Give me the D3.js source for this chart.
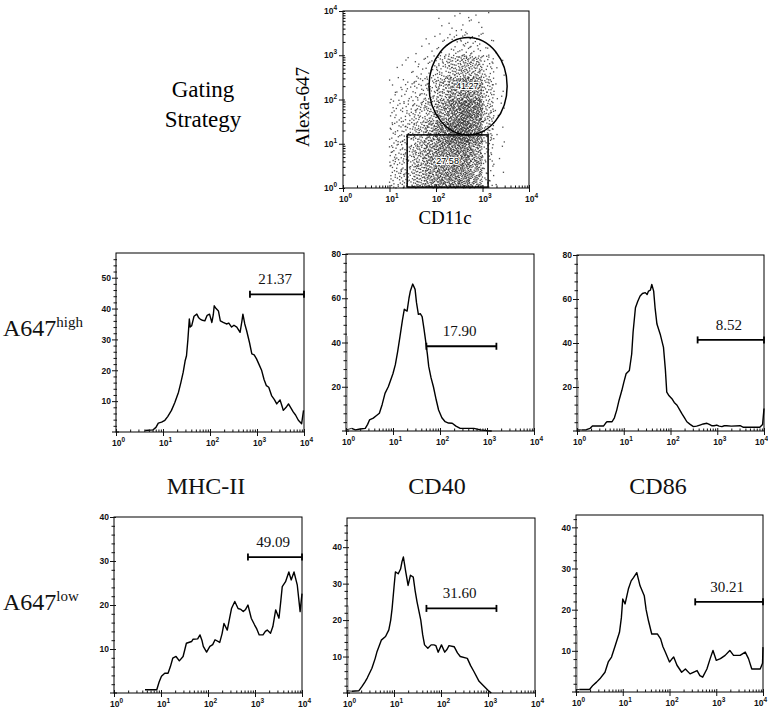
<!DOCTYPE html>
<html><head><meta charset="utf-8">
<script src="https://cdn.jsdelivr.net/npm/d3@7"></script>
<style>body{margin:0;background:#fff}</style>
</head><body><svg id="c" width="768" height="720"></svg>
<script>
// ---------- DATA ----------
const decades = [1, 10, 100, 1000, 10000];
// Scatter density grid (log10 lower edges, counts per cell)
const scatterXBins = [1.0, 1.25, 1.5, 1.75, 2.0, 2.25, 2.5, 2.75, 3.0, 3.25];
const scatterYBins = [3.5, 3.0, 2.5, 2.0, 1.5, 1.0, 0.5, 0.0];
const scatterDensity = [
  [0, 0, 0, 0, 2, 4, 6, 4, 1, 0],
  [0, 0, 2, 4, 8, 14, 18, 14, 6, 1],
  [1, 4, 8, 14, 28, 45, 60, 50, 20, 3],
  [8, 12, 20, 30, 50, 80, 100, 85, 35, 4],
  [14, 20, 30, 45, 75, 110, 140, 120, 40, 4],
  [20, 28, 45, 70, 110, 140, 150, 110, 30, 3],
  [25, 30, 55, 85, 105, 115, 110, 80, 18, 2],
  [25, 30, 55, 80, 100, 105, 100, 70, 15, 2]
];
// Gates on the dot plot (log10 units)
const ellipseGate = { cx: 2.69, cy: 2.3, rx: 0.84, ry: 1.1, label: "41.27" };
const rectGate = { x0: 1.38, x1: 3.12, y0: 0.02, y1: 1.2, label: "27.58" };

const markers = ["MHC-II", "CD40", "CD86"];
const populations = ["high", "low"];

// Histograms: [log10 fluorescence, count]
const mhcHigh = [[0.62,0.5],[0.79,0.7],[0.85,1.5],[0.9,2.9],[0.97,3.2],[1.04,3.8],[1.1,5],[1.18,7],[1.25,9.5],[1.33,12.9],[1.38,16],[1.43,19.4],[1.47,23],[1.5,24.7],[1.53,30],[1.56,36.6],[1.58,34],[1.61,34.4],[1.66,37.5],[1.72,38.2],[1.76,37],[1.79,36.6],[1.84,36.2],[1.89,36],[1.94,37.8],[1.99,38.2],[2.04,35.5],[2.07,38],[2.09,40.9],[2.13,40],[2.18,39.2],[2.22,36],[2.28,35.5],[2.35,35],[2.4,35.3],[2.46,34],[2.51,34.6],[2.57,34],[2.64,32.3],[2.68,36],[2.7,38.2],[2.74,35],[2.78,32.8],[2.84,29],[2.89,25.3],[2.94,25],[2.99,23.7],[3.04,22],[3.1,19.9],[3.15,17],[3.2,15],[3.25,14.5],[3.31,11.8],[3.37,10.5],[3.42,9.1],[3.49,10.4],[3.53,8.5],[3.56,7],[3.62,8],[3.67,9.1],[3.72,7.8],[3.77,6.5],[3.82,5.5],[3.88,3.8],[3.95,2.7],[3.99,7]];
const cd40High = [[0.12,1.2],[0.2,0.5],[0.3,0.9],[0.41,1.2],[0.46,3],[0.5,5],[0.58,5.8],[0.65,7],[0.71,8],[0.77,12],[0.83,17],[0.9,20],[0.94,22.4],[1.0,26],[1.05,30],[1.1,36],[1.15,42.9],[1.2,50],[1.24,55],[1.3,54.2],[1.34,60],[1.37,63.3],[1.42,66.4],[1.47,64],[1.5,58],[1.54,52.7],[1.58,53],[1.62,51.7],[1.66,46],[1.69,41.4],[1.73,35],[1.76,29.2],[1.81,24],[1.86,20],[1.92,14],[1.97,9.5],[2.04,6],[2.11,4.2],[2.18,3.6],[2.26,3.5],[2.34,2.2],[2.43,1.2],[2.6,1.2],[2.72,1.2],[2.86,0.5],[3.0,0.15],[3.1,0]];
const cd86High = [[0.1,0.5],[0.2,0.6],[0.28,1.2],[0.33,2.3],[0.39,2.3],[0.57,2.3],[0.61,3.5],[0.64,4.2],[0.75,4.2],[0.8,6],[0.85,9.5],[0.9,14],[0.96,18.5],[1.0,22],[1.05,26],[1.12,27.5],[1.17,35],[1.2,45],[1.25,56],[1.3,59],[1.35,61.4],[1.4,62.5],[1.46,62.9],[1.5,62],[1.53,63.6],[1.57,64],[1.6,66.6],[1.64,63.6],[1.67,56],[1.71,48.6],[1.78,44],[1.85,38],[1.89,28],[1.92,17.7],[1.97,16],[2.03,14.7],[2.08,13],[2.14,11.7],[2.2,9.5],[2.24,8],[2.3,6],[2.35,4.2],[2.42,3],[2.49,2],[2.56,2.2],[2.63,2.7],[2.7,3.2],[2.78,3.5],[2.83,3],[2.88,2.4],[2.93,2.4],[2.99,2.7],[3.04,2.2],[3.1,2],[3.15,2.4],[3.2,2.4],[3.3,2.2],[3.49,2.4],[3.56,1.7],[3.91,1.7],[3.97,3],[4.0,10.2]];
const mhcLow = [[0.66,0.75],[0.91,0.75],[0.96,2.5],[1.01,3.8],[1.08,4.5],[1.15,4.5],[1.2,6],[1.25,7.9],[1.32,8.3],[1.39,7.3],[1.47,8.3],[1.51,10],[1.54,11.3],[1.65,11.7],[1.68,12.2],[1.78,12.3],[1.83,13.2],[1.87,12],[1.9,10.6],[1.97,9.3],[2.04,10.6],[2.1,11],[2.15,12.1],[2.25,11.5],[2.3,13.5],[2.34,15.8],[2.41,14.3],[2.46,17],[2.5,19.2],[2.57,20.8],[2.64,19.2],[2.7,19],[2.75,18.5],[2.8,19],[2.85,20],[2.92,17],[2.99,15.5],[3.04,14.5],[3.09,13.2],[3.17,13.2],[3.22,14],[3.26,14.3],[3.33,13.6],[3.38,15.1],[3.44,18.9],[3.51,17],[3.55,21],[3.58,24.2],[3.65,25.3],[3.72,27.5],[3.77,25.7],[3.83,27.5],[3.9,24.5],[3.96,18.5],[4.0,22.6]];
const cd40Low = [[0.1,0.5],[0.25,0.6],[0.32,1.8],[0.38,3],[0.43,4.1],[0.53,6.8],[0.6,9.5],[0.64,11.4],[0.73,14.5],[0.82,15.5],[0.89,17.3],[0.93,20],[0.96,23.2],[1.0,29],[1.03,33.2],[1.09,32.7],[1.14,34],[1.17,36],[1.2,37.3],[1.25,33.2],[1.3,29.5],[1.35,32.3],[1.41,31.8],[1.45,28],[1.49,25],[1.57,20],[1.61,16],[1.65,13.2],[1.72,12.3],[1.79,13.2],[1.85,13.2],[1.89,13],[1.94,11.2],[2.01,13.2],[2.08,11.2],[2.13,12],[2.17,13],[2.28,12.7],[2.35,11],[2.41,10],[2.56,9.5],[2.63,7.5],[2.7,5.9],[2.81,3.2],[2.92,1.8],[3.02,0.5],[3.07,0]];
const cd86Low = [[0.07,0.6],[0.29,0.6],[0.36,1.6],[0.44,2.4],[0.51,3.2],[0.62,4.8],[0.69,7.3],[0.76,8.5],[0.84,11.3],[0.93,14.5],[0.97,18],[1.0,22.6],[1.05,21.4],[1.12,25],[1.18,27],[1.23,27.8],[1.3,29],[1.37,25.8],[1.46,23.4],[1.5,20],[1.55,17.3],[1.62,14.1],[1.74,14.1],[1.81,12.9],[1.86,11],[1.91,9.7],[2.0,7.3],[2.05,8],[2.09,8.5],[2.16,6.5],[2.26,4.8],[2.34,5.6],[2.44,4.4],[2.59,5.2],[2.65,4],[2.71,3.6],[2.8,5.6],[2.87,8.1],[2.93,10.1],[3.0,7.7],[3.09,8.1],[3.19,8.9],[3.29,10.1],[3.37,8.9],[3.51,8.9],[3.62,9.7],[3.69,8.1],[3.76,5.6],[3.94,5.6],[3.99,7],[4.0,10.9]];
// zero-channel pile-up spikes (count)
const spikes = { cd40High: 42.9, cd86High: 23, cd40Low: 24, cd86Low: 15 };
// Gate markers: [start log10, end log10, level, label]
const gates = {
  mhcHigh: [2.85, 4.0, 44.6, "21.37"],
  cd40High: [1.71, 3.2, 38.3, "17.90"],
  cd86High: [2.58, 4.0, 41.4, "8.52"],
  mhcLow: [2.85, 4.0, 30.9, "49.09"],
  cd40Low: [1.69, 3.18, 23.2, "31.60"],
  cd86Low: [2.55, 4.0, 21.9, "30.21"]
};
const yMax = { mhcHigh: 58, cd40High: 80, cd86High: 80, mhcLow: 40, cd40Low: 48, cd86Low: 43 };
const yTicks = {
  mhcHigh: [10, 20, 30, 40, 50], cd40High: [20, 40, 60, 80], cd86High: [20, 40, 60, 80],
  mhcLow: [10, 20, 30, 40], cd40Low: [10, 20, 30, 40], cd86Low: [10, 20, 30, 40]
};
const yMinorStep = { mhcHigh: 2, cd40High: 4, cd86High: 4, mhcLow: 2, cd40Low: 2, cd86Low: 2 };

// ---------- LAYOUT ----------
const svg = d3.select("#c");
svg.append("rect").attr("width", 768).attr("height", 720).attr("fill", "#fff");
const SERIF = "'Liberation Serif','Times New Roman',serif";
const SANS = "'Liberation Sans',Arial,sans-serif";
const TICKFS = 8.5;

const minorVals = [];
for (let d = 0; d < 4; d++) for (let m = 2; m <= 9; m++) minorVals.push(m * Math.pow(10, d));

function expLabel(sel) {
  sel.each(function (d) {
    const t = d3.select(this);
    t.text("");
    t.append("tspan").text("10");
    t.append("tspan").attr("dy", -4).attr("font-size", 6.5).text(Math.round(Math.log10(d)));
  });
}

function xLogAxis(g, x, h, absLeft) {
  const a = g.append("g").attr("transform", `translate(0,${h})`)
    .call(d3.axisBottom(x).tickValues(decades).tickSize(4).tickFormat(d => d));
  a.select(".domain").remove();
  a.selectAll(".tick line").attr("y1", -3).attr("stroke", "#111");
  a.selectAll(".tick text").attr("y", 8).attr("dy", "0.71em")
    .attr("dx", d => (absLeft + x(d) > 755 ? -3 : 2))
    .attr("font-family", SANS).attr("font-weight", "bold").attr("font-size", TICKFS).attr("fill", "#111")
    .call(expLabel);
  const m = g.append("g").attr("transform", `translate(0,${h})`)
    .call(d3.axisBottom(x).tickValues(minorVals).tickSize(-2.5).tickFormat(""));
  m.select(".domain").remove();
  m.selectAll(".tick line").attr("stroke", "#111");
}

// ---------- SCATTER ----------
(function () {
  const L = 343, T = 11, W = 186, H = 177;
  const g = svg.append("g").attr("transform", `translate(${L},${T})`);
  const x = d3.scaleLog().domain([1, 10000]).range([0, W]);
  const y = d3.scaleLog().domain([1, 10000]).range([H, 0]);
  function halton(i, b) { let f = 1, r = 0; while (i > 0) { f /= b; r += f * (i % b); i = Math.floor(i / b); } return r; }
  const pts = [];
  let idx = 1;
  scatterYBins.forEach((yb, ri) => {
    scatterXBins.forEach((xb, ci) => {
      const n = scatterDensity[ri][ci];
      for (let k = 0; k < n; k++) {
        const px = xb + halton(idx, 2) * 0.25;
        const py = yb + halton(idx, 3) * 0.5;
        idx++;
        pts.push([Math.pow(10, px), Math.pow(10, py)]);
      }
    });
  });
  g.append("g").selectAll("rect").data(pts).join("rect")
    .attr("x", d => x(d[0]) - 0.65).attr("y", d => y(d[1]) - 0.65)
    .attr("width", 1.3).attr("height", 1.3).attr("fill", "#222").attr("opacity", 0.8);
  // gates
  const ecx = x(Math.pow(10, ellipseGate.cx)), ecy = y(Math.pow(10, ellipseGate.cy));
  g.append("ellipse").attr("cx", ecx).attr("cy", ecy)
    .attr("rx", x(Math.pow(10, ellipseGate.cx + ellipseGate.rx)) - ecx)
    .attr("ry", ecy - y(Math.pow(10, ellipseGate.cy + ellipseGate.ry)))
    .attr("fill", "none").attr("stroke", "#000").attr("stroke-width", 1.5);
  g.append("rect").attr("x", x(Math.pow(10, rectGate.x0))).attr("y", y(Math.pow(10, rectGate.y1)))
    .attr("width", x(Math.pow(10, rectGate.x1)) - x(Math.pow(10, rectGate.x0)))
    .attr("height", y(Math.pow(10, rectGate.y0)) - y(Math.pow(10, rectGate.y1)))
    .attr("fill", "none").attr("stroke", "#000").attr("stroke-width", 1.5);
  [[ellipseGate.label, ellipseGate.cx - 0.02, ellipseGate.cy], [rectGate.label, (rectGate.x0 + rectGate.x1) / 2, (rectGate.y0 + rectGate.y1) / 2]]
    .forEach(([t, lx, ly]) => {
      g.append("text").attr("x", x(Math.pow(10, lx))).attr("y", y(Math.pow(10, ly)) + 3)
        .attr("text-anchor", "middle").attr("font-family", SANS).attr("font-size", 9).attr("fill", "#000")
        .attr("stroke", "#fff").attr("stroke-width", 2.2).attr("paint-order", "stroke").text(t);
    });
  // frame
  g.append("rect").attr("width", W).attr("height", H).attr("fill", "none").attr("stroke", "#000").attr("stroke-width", 1);
  xLogAxis(g, x, H, L);
  const ya = g.append("g").call(d3.axisLeft(y).tickValues(decades).tickSize(4).tickFormat(d => d));
  ya.select(".domain").remove();
  ya.selectAll(".tick line").attr("x1", 2).attr("stroke", "#111");
  ya.selectAll(".tick text").attr("x", -6).attr("font-family", SANS).attr("font-weight", "bold")
    .attr("font-size", TICKFS).attr("fill", "#111").call(expLabel);
  const ym = g.append("g").call(d3.axisLeft(y).tickValues(minorVals).tickSize(-2.5).tickFormat(""));
  ym.select(".domain").remove();
  svg.append("text").attr("x", 445).attr("y", 224).attr("text-anchor", "middle")
    .attr("font-family", SERIF).attr("font-size", 19).text("CD11c");
  svg.append("text").attr("transform", "translate(309,107) rotate(-90)").attr("text-anchor", "middle")
    .attr("font-family", SERIF).attr("font-size", 19).text("Alexa-647");
  const gs = svg.append("text").attr("text-anchor", "middle").attr("font-family", SERIF).attr("font-size", 23);
  gs.append("tspan").attr("x", 203).attr("y", 97).text("Gating");
  gs.append("tspan").attr("x", 203).attr("y", 127).text("Strategy");
})();

// ---------- HISTOGRAMS ----------
const panels = [
  { key: "mhcHigh", data: mhcHigh, L: 116, T: 253, W: 188, H: 179 },
  { key: "cd40High", data: cd40High, L: 346, T: 254, W: 188, H: 177 },
  { key: "cd86High", data: cd86High, L: 577, T: 255, W: 187, H: 176 },
  { key: "mhcLow", data: mhcLow, L: 114, T: 517, W: 188, H: 176 },
  { key: "cd40Low", data: cd40Low, L: 347, T: 518, W: 188, H: 175 },
  { key: "cd86Low", data: cd86Low, L: 576, T: 515, W: 187, H: 177 }
];

panels.forEach(p => {
  const g = svg.append("g").attr("transform", `translate(${p.L},${p.T})`);
  const x = d3.scaleLog().domain([1, 10000]).range([0, p.W]);
  const y = d3.scaleLinear().domain([0, yMax[p.key]]).range([p.H, 0]);
  g.append("rect").attr("width", p.W).attr("height", p.H).attr("fill", "none").attr("stroke", "#000").attr("stroke-width", 1);
  // spike at channel 0
  if (spikes[p.key] !== undefined) {
    g.append("line").attr("x1", x(1.05)).attr("x2", x(1.05)).attr("y1", y(0)).attr("y2", y(spikes[p.key]))
      .attr("stroke", "#999").attr("stroke-width", 1.2);
    g.append("line").attr("x1", x(1.05)).attr("x2", x(Math.pow(10, p.data[0][0]))).attr("y1", y(0.6)).attr("y2", y(p.data[0][1]))
      .attr("stroke", "#222").attr("stroke-width", 1);
  }
  const line = d3.line().x(d => x(Math.pow(10, d[0]))).y(d => y(d[1])).curve(d3.curveLinear);
  g.append("path").attr("d", line(p.data)).attr("fill", "none").attr("stroke", "#000")
    .attr("stroke-width", 1.4).attr("stroke-linejoin", "round");
  // gate
  const [g0, g1, lv, lab] = gates[p.key];
  const gx0 = x(Math.pow(10, g0)), gx1 = x(Math.pow(10, g1)), gy = y(lv);
  g.append("line").attr("x1", gx0).attr("x2", gx1).attr("y1", gy).attr("y2", gy).attr("stroke", "#000").attr("stroke-width", 1.8);
  [gx0, gx1].forEach(v => g.append("line").attr("x1", v).attr("x2", v).attr("y1", gy - 3.5).attr("y2", gy + 3.5)
    .attr("stroke", "#000").attr("stroke-width", 1.8));
  g.append("text").attr("x", x(Math.pow(10, (g0 + g1) / 2 - 0.04))).attr("y", gy - 10)
    .attr("text-anchor", "middle").attr("font-family", SERIF).attr("font-size", 15).attr("fill", "#111").text(lab);
  // axes
  xLogAxis(g, x, p.H, p.L);
  const ya = g.append("g").call(d3.axisLeft(y).tickValues(yTicks[p.key]).tickSize(4).tickFormat(d3.format("d")));
  ya.select(".domain").remove();
  ya.selectAll(".tick line").attr("x1", 2).attr("stroke", "#111");
  ya.selectAll(".tick text").attr("x", -5).attr("font-family", SANS).attr("font-weight", "bold")
    .attr("font-size", TICKFS).attr("fill", "#111");
  const mv = d3.range(0, yMax[p.key], yMinorStep[p.key]).filter(v => v > 0 && !yTicks[p.key].includes(v));
  const ym = g.append("g").call(d3.axisLeft(y).tickValues(mv).tickSize(2.5).tickFormat(""));
  ym.select(".domain").remove();
  ym.selectAll(".tick line").attr("x1", 1).attr("stroke", "#111");
  // corner cross
  g.append("line").attr("x1", -4).attr("x2", 3).attr("y1", p.H).attr("y2", p.H).attr("stroke", "#000");
});

// ---------- ROW / COLUMN LABELS ----------
const markerX = [206, 437, 658];
markers.forEach((m, i) => svg.append("text").attr("x", markerX[i]).attr("y", 494).attr("text-anchor", "middle")
  .attr("font-family", SERIF).attr("font-size", 24).attr("fill", "#111").text(m));
const popY = [336, 610];
populations.forEach((p, i) => {
  const t = svg.append("text").attr("x", 3).attr("y", popY[i]).attr("font-family", SERIF).attr("font-size", 24).attr("fill", "#111");
  t.append("tspan").text("A647");
  t.append("tspan").attr("dy", -9).attr("font-size", 15).text(p);
});
</script></body></html>
